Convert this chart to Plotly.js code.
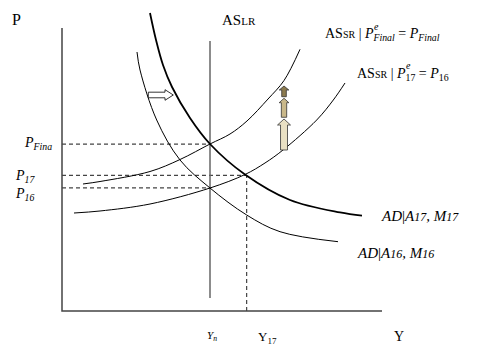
<!DOCTYPE html>
<html><head><meta charset="utf-8">
<script src="https://cdn.plot.ly/plotly-3.0.1.min.js"></script>
<style>html,body{margin:0;padding:0;background:#fff}</style>
</head><body><div id="chart" style="width:480px;height:361px"></div>
<script>
// ---- Data (output Y on x, price level P on y; axis box is 0..100 each) ----
const Yn = 46.25, Y17 = 57.7;
const P_final = 59.0, P_17 = 47.9, P_16 = 43.5;
const ASLR_y = [4.6, 95.4];

const asFinal_x = [6.56, 11.88, 27.5, 36.88, 46.25, 52.5, 57.81, 64.38, 69.38, 74.38];
const asFinal_y = [44.88, 45.76, 49.29, 53.53, 59.01, 62.54, 67.14, 74.91, 81.45, 92.47];

const as17_x = [3.75, 11.88, 27.5, 46.25, 57.19, 63.44, 69.06, 79.59, 84.78, 88.44];
const as17_y = [34.63, 35.34, 37.81, 43.46, 48.23, 52.30, 56.89, 67.49, 74.56, 80.57];

const ad17_x = [27.5, 29.38, 31.56, 34.38, 40.0, 46.25, 57.19, 71.25, 86.88, 93.75];
const ad17_y = [105.3, 95.76, 86.93, 79.15, 68.20, 59.01, 48.23, 39.22, 34.81, 33.67];

const ad16_x = [23.44, 24.38, 29.59, 36.88, 46.25, 57.72, 68.13, 86.25];
const ad16_y = [91.52, 85.16, 67.49, 53.36, 43.46, 33.92, 28.02, 24.49];

// shift arrows (schematic)
const upArrows = [
  {x: 69.38, y0: 56.89, y1: 67.84, shaft: 1.09, head: 2.03, headLen: 2.12, fill: '#e9e0c3'},
  {x: 69.38, y0: 68.45, y1: 75.16, shaft: 0.84, head: 1.52, headLen: 1.56, fill: '#c9b88a'},
  {x: 69.38, y0: 75.72, y1: 79.5, shaft: 0.72, head: 1.5, headLen: 1.41, fill: '#8b7a4e'}
];
const rightArrow = {y: 76.33, x0: 26.97, x1: 34.78, shaft: 0.99, head: 1.87, headLen: 2.59, fill: '#ffffff'};

// ---- helpers ----
const FONT = 'Liberation Serif, Times New Roman, serif';
function line(x, y, opts) {
  return Object.assign({type: 'scatter', mode: 'lines', x: x, y: y, hoverinfo: 'skip',
    line: Object.assign({color: '#000', width: 1, shape: 'spline', smoothing: 1}, opts || {})});
}
function vArrow(a) {
  const yh = a.y1 - a.headLen;
  return {type: 'scatter', mode: 'lines', hoverinfo: 'skip', fill: 'toself', fillcolor: a.fill,
    x: [a.x - a.shaft, a.x - a.shaft, a.x - a.head, a.x, a.x + a.head, a.x + a.shaft, a.x + a.shaft, a.x - a.shaft],
    y: [a.y0, yh, yh, a.y1, yh, yh, a.y0, a.y0],
    line: {color: '#333', width: 0.8}};
}
function hArrow(a) {
  const xh = a.x1 - a.headLen;
  return {type: 'scatter', mode: 'lines', hoverinfo: 'skip', fill: 'toself', fillcolor: a.fill,
    x: [a.x0, xh, xh, a.x1, xh, xh, a.x0, a.x0],
    y: [a.y - a.shaft, a.y - a.shaft, a.y - a.head, a.y, a.y + a.head, a.y + a.shaft, a.y + a.shaft, a.y - a.shaft],
    line: {color: '#000', width: 0.8}};
}

const traces = [
  // axes
  line([0, 0, 100], [100, 0, 0], {color: '#444', width: 1.5, shape: 'linear'}),
  // dashed guides
  line([0, Yn], [P_final, P_final], {color: '#444', width: 1.2, dash: '4px,3px', shape: 'linear'}),
  line([0, Y17], [P_17, P_17], {color: '#444', width: 1.2, dash: '4px,3px', shape: 'linear'}),
  line([0, Yn], [P_16, P_16], {color: '#444', width: 1.2, dash: '4px,3px', shape: 'linear'}),
  line([Y17, Y17], [0, P_17], {color: '#444', width: 1.2, dash: '4px,3px', shape: 'linear'}),
  // long-run AS
  line([Yn, Yn], ASLR_y, {color: '#666', width: 1.5, shape: 'linear'}),
  // curves
  line(asFinal_x, asFinal_y, {width: 1}),
  line(as17_x, as17_y, {width: 1}),
  line(ad16_x, ad16_y, {width: 1}),
  line(ad17_x, ad17_y, {width: 1.8}),
  // arrows
  hArrow(rightArrow)
].concat(upArrows.map(vArrow));

function lbl(text, px, py, size, extra) {
  return Object.assign({xref: 'paper', yref: 'paper', x: px / 480, y: 1 - py / 361,
    xanchor: 'left', yanchor: 'middle', showarrow: false, text: text,
    font: {family: FONT, size: size, color: '#000'}}, extra || {});
}
const sm = (t, s) => '<span style="font-size:' + s + 'px">' + t + '</span>';

const annotations = [
  lbl('P', 10, 19.5, 16),
  lbl('AS' + sm('LR', 11), 220, 20, 15),
  lbl('AS' + sm('SR', 10) + ' | <i>P</i><sub><i>Final</i></sub> = <i>P</i><sub><i>Final</i></sub>', 323, 35, 14),
  lbl('<i>e</i>', 372, 26.5, 10),
  lbl('AS' + sm('SR', 10) + ' | <i>P</i><sub>17</sub> = <i>P</i><sub>16</sub>', 355, 74, 14),
  lbl('<i>e</i>', 404, 65.5, 10),
  lbl('<i>P<sub>Fina</sub></i>', 22, 143, 14),
  lbl('<i>P<sub>17</sub></i>', 13, 176, 14),
  lbl('<i>P<sub>16</sub></i>', 13, 195, 14),
  lbl('<i>Y<sub>n</sub></i>', 205, 336, 11),
  lbl('Y<sub>17</sub>', 256, 337, 13),
  lbl('Y', 392, 336, 14),
  lbl('<i>AD</i>|<i>A' + sm('17', 12) + ', M' + sm('17', 12) + '</i>', 379, 216, 15),
  lbl('<i>AD</i>|<i>A' + sm('16', 12) + ', M' + sm('16', 12) + '</i>', 355, 253.5, 15)
];

const layout = {
  width: 480, height: 361,
  margin: {l: 0, r: 0, t: 0, b: 0},
  paper_bgcolor: '#fff', plot_bgcolor: '#fff',
  showlegend: false,
  xaxis: {range: [-19.375, 130.625], visible: false, fixedrange: true},
  yaxis: {range: [-17.668, 109.894], visible: false, fixedrange: true},
  annotations: annotations
};
Plotly.newPlot('chart', traces, layout, {staticPlot: true, displayModeBar: false});
</script></body></html>
